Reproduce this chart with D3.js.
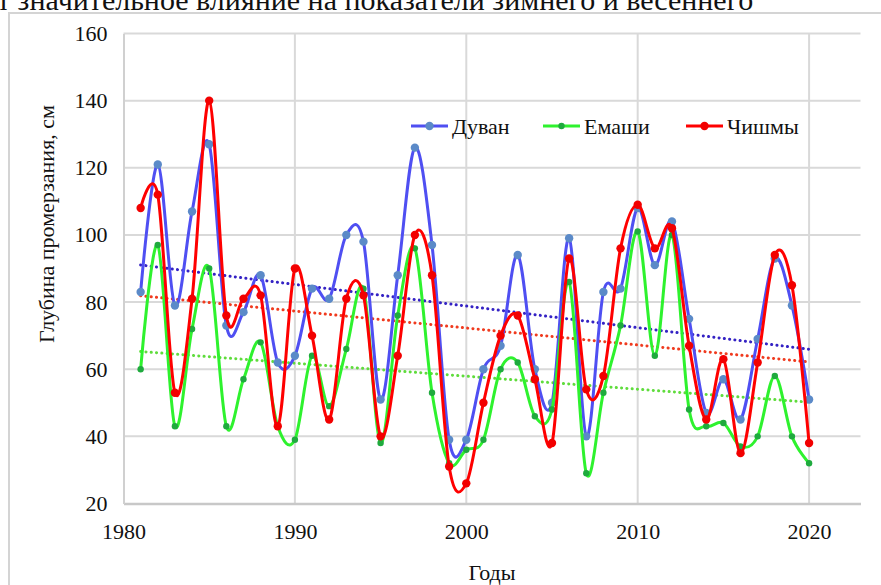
<!DOCTYPE html>
<html>
<head>
<meta charset="utf-8">
<script src="https://cdn.jsdelivr.net/npm/d3@7"></script>
</head>
<body style="margin:0">
<script>
// chart data
const years = d3.range(1981, 2021);
const duvan = [83, 121, 79, 107, 127, 73, 77, 88, 62, 64, 84, 81, 100, 98, 51, 88, 126, 97, 39, 39,
  60, 67, 94, 60, 50, 99, 40, 83, 84, 108, 91, 104, 75, 47, 57, 45, 69, 93, 79, 51];
const emashi = [60, 97, 43, 72, 90, 43, 57, 68, 43, 39, 64, 49, 66, 84, 38, 76, 96, 53, 32, 36,
  39, 60, 62, 46, 48, 86, 29, 53, 73, 101, 64, 100, 48, 43, 44, 37, 40, 58, 40, 32];
const chishmy = [108, 112, 53, 81, 140, 76, 81, 82, 43, 90, 70, 45, 81, 82, 40, 64, 100, 88, 31, 26,
  50, 70, 76, 57, 38, 93, 54, 58, 96, 109, 96, 102, 67, 45, 63, 35, 62, 94, 85, 38];
const seriesNames = ["Дуван", "Емаши", "Чишмы"];
const xTicks = [1980, 1990, 2000, 2010, 2020];
const yTicks = [20, 40, 60, 80, 100, 120, 140, 160];

const FONT = "'Liberation Serif'";
const svg = d3.select("body").append("svg")
  .attr("width", 881).attr("height", 585)
  .style("font-family", FONT);

function serif(sel, size) {
  return sel.style("font-family", FONT)
    .style("font-size", size + "px").attr("fill", "#111");
}

// text of the page above the chart (cut off in the picture)
serif(svg.append("text")
  .attr("x", -3).attr("y", 10)
  .text("т значительное влияние на показатели зимнего и весеннего"), 30);

// chart frame
svg.append("rect")
  .attr("x", 9).attr("y", 13)
  .attr("width", 900).attr("height", 600)
  .attr("fill", "#fff")
  .attr("stroke", "#d4d4d4").attr("stroke-width", 2);

const x = d3.scaleLinear().domain([1980, 2023]).range([123.5, 860.5]);
const y = d3.scaleLinear().domain([20, 160]).range([503.5, 33.5]);

// grid
const grid = svg.append("g");
grid.selectAll(".hg").data(yTicks.slice(1)).join("line")
  .attr("x1", x(1980)).attr("x2", x(2023))
  .attr("y1", d => y(d)).attr("y2", d => y(d))
  .attr("stroke", "#d9d9d9").attr("stroke-width", 2);
grid.selectAll(".vg").data(xTicks.slice(1)).join("line")
  .attr("x1", d => x(d)).attr("x2", d => x(d))
  .attr("y1", y(160)).attr("y2", y(20))
  .attr("stroke", "#d9d9d9").attr("stroke-width", 2);

// axes
const xAxis = svg.append("g")
  .attr("transform", `translate(0,${y(20)})`)
  .call(d3.axisBottom(x).tickValues(xTicks).tickFormat(d3.format("d")).tickSize(0).tickPadding(20));
xAxis.select(".domain").attr("stroke", "#c8c8c8").attr("stroke-width", 2.5);
serif(xAxis.selectAll("text"), 22);

const yAxis = svg.append("g")
  .attr("transform", `translate(${x(1980)},0)`)
  .call(d3.axisLeft(y).tickValues(yTicks).tickSize(0).tickPadding(16));
yAxis.select(".domain").attr("stroke", "#d0d0d0").attr("stroke-width", 2);
serif(yAxis.selectAll("text"), 22);

serif(svg.append("text")
  .attr("x", 492).attr("y", 580)
  .attr("text-anchor", "middle")
  .text("Годы"), 22);

serif(svg.append("text")
  .attr("transform", "translate(54,224) rotate(-90)")
  .attr("text-anchor", "middle")
  .text("Глубина промерзания, см"), 22);

// series
const series = [
  { name: seriesNames[0], values: duvan, line: "#4f4ff2", dot: "#5b8ac8", r: 4.2, trend: "#3422c4" },
  { name: seriesNames[1], values: emashi, line: "#2ef22e", dot: "#1faa3e", r: 3.2, trend: "#5fdc3c" },
  { name: seriesNames[2], values: chishmy, line: "#ff0000", dot: "#f20000", r: 4.2, trend: "#f03a1e" }
];

// linear trend lines
series.forEach(s => {
  const mx = d3.mean(years), my = d3.mean(s.values);
  const b = d3.sum(years, (yr, i) => (yr - mx) * (s.values[i] - my)) / d3.sum(years, yr => (yr - mx) ** 2);
  const a = my - b * mx;
  const ends = [years[0], years[years.length - 1]];
  svg.append("line")
    .attr("x1", x(ends[0])).attr("y1", y(a + b * ends[0]))
    .attr("x2", x(ends[1])).attr("y2", y(a + b * ends[1]))
    .attr("stroke", s.trend).attr("stroke-width", 3)
    .attr("stroke-linecap", "round")
    .attr("stroke-dasharray", "0.1 5.2");
});

const line = d3.line()
  .x((d, i) => x(years[i]))
  .y(d => y(d))
  .curve(d3.curveCardinal.tension(0));

series.forEach(s => {
  const g = svg.append("g");
  g.append("path")
    .attr("d", line(s.values))
    .attr("fill", "none")
    .attr("stroke", s.line).attr("stroke-width", 3);
  g.selectAll("circle").data(s.values).join("circle")
    .attr("cx", (d, i) => x(years[i]))
    .attr("cy", d => y(d))
    .attr("r", s.r)
    .attr("fill", s.dot);
});

// legend
const legendX = [411, 543, 686];
const legend = svg.append("g");
series.forEach((s, i) => {
  const lg = legend.append("g").attr("transform", `translate(${legendX[i]},126)`);
  lg.append("line").attr("x1", 0).attr("x2", 37)
    .attr("stroke", s.line).attr("stroke-width", 3);
  lg.append("circle").attr("cx", 18.5).attr("r", s.r).attr("fill", s.dot);
  serif(lg.append("text").attr("x", 41).attr("y", 8), 22)
    .text(s.name);
});
</script>
</body>
</html>
